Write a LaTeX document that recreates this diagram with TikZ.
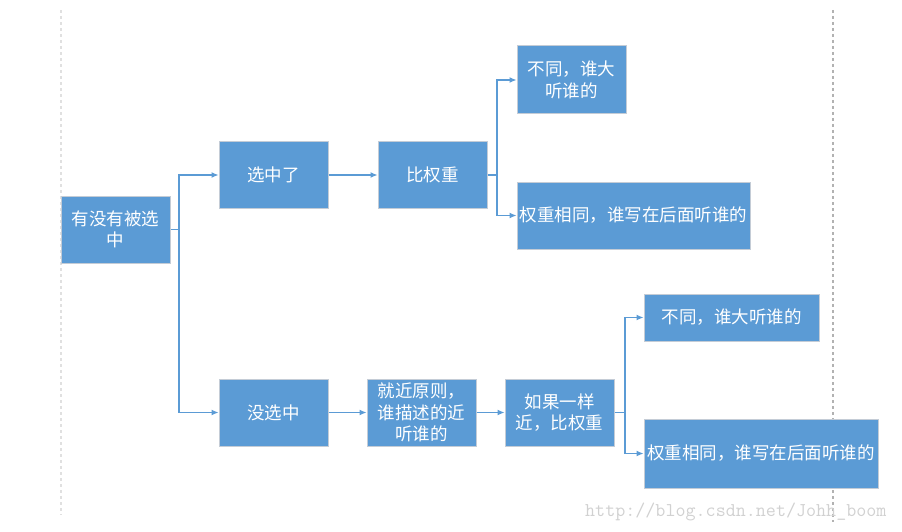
\documentclass[tikz,border=0pt]{standalone}
\usepackage{fontspec}
\setmainfont{Noto Sans CJK SC}
\usetikzlibrary{arrows.meta}
\definecolor{boxblue}{HTML}{5B9BD5}
\definecolor{boxedge}{HTML}{C4CCD6}
\begin{document}
\begin{tikzpicture}[x=1pt,y=-1pt,
    stepbox/.style={rectangle,fill=boxblue,draw=boxedge,line width=1pt,
        text=white,inner sep=0pt,align=center,
        font=\fontsize{17.5}{21.5}\selectfont},
    link/.style={draw=boxblue,line width=1.1pt,-{Latex[length=7pt,width=6pt]}}
]

    \useasboundingbox (0,0) rectangle (902,532);

    % dashed page margins
    \draw[black!12,dashed,line width=1.2pt] (61,10) -- (61,515);
    \draw[black!30,dashed,line width=1.2pt] (833,10) -- (833,522);

    % boxes
    \node[stepbox,minimum width=109pt,minimum height=67pt] (sel) at (115.5,229.5) {有没有被选\\中};
    \node[stepbox,minimum width=109pt,minimum height=66pt] (yes) at (273.5,175) {选中了};
    \node[stepbox,minimum width=109pt,minimum height=66pt] (wt) at (432.5,175) {比权重};
    \node[stepbox,minimum width=109pt,minimum height=68pt] (diffA) at (571.5,80) {不同，谁大\\听谁的};
    \node[stepbox,minimum width=233pt,minimum height=67pt] (sameA) at (633.5,215.5) {权重相同，谁写在后面听谁的};

    \node[stepbox,minimum width=109pt,minimum height=67pt] (no) at (273.5,412.5) {没选中};
    \node[stepbox,minimum width=109pt,minimum height=67pt] (near) at (421.5,412.5) {就近原则，\\谁描述的近\\听谁的};
    \node[stepbox,minimum width=109pt,minimum height=67pt] (eq) at (559.5,412.5) {如果一样\\近，比权重};
    \node[stepbox,minimum width=175pt,minimum height=47pt] (diffB) at (731.5,317.5) {不同，谁大听谁的};
    \node[stepbox,minimum width=234pt,minimum height=69pt] (sameB) at (761,453.5) {权重相同，谁写在后面听谁的};

    % branch points
    \coordinate (j1) at (179,229.5);
    \coordinate (j2) at (497,175);
    \coordinate (j3) at (625,412.5);

    \draw[link] (sel.east) -- (j1) |- (yes.west);
    \draw[link] (j1) |- (no.west);
    \draw[link] (yes) -- (wt);
    \draw[link] (wt.east) -- (j2) |- (diffA.west);
    \draw[link] (j2) |- (sameA.west);

    \draw[link] (no) -- (near);
    \draw[link] (near) -- (eq);
    \draw[link] (eq.east) -- (j3) |- (diffB.west);
    \draw[link] (j3) |- (sameB.west);

    % watermark
    \node[text=black!18,font=\ttfamily\fontsize{19.5}{21}\selectfont,anchor=east] (mark) at (890,512) {http://blog.csdn.net/Johh\_boom};

\end{tikzpicture}
\end{document}
